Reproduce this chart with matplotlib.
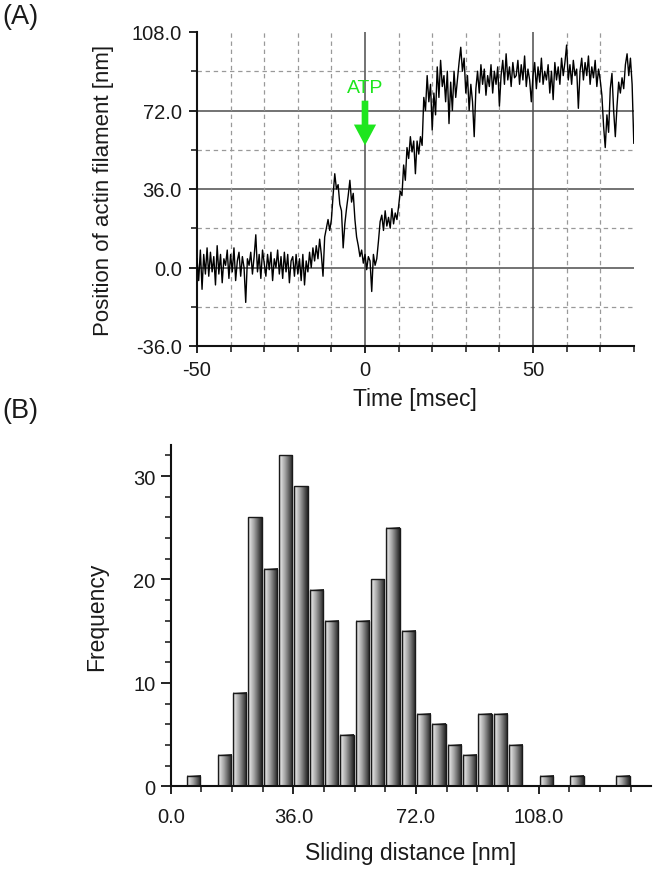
import numpy as np
import matplotlib
matplotlib.use("Agg")
import matplotlib.pyplot as plt
from matplotlib.colors import LinearSegmentedColormap
from matplotlib.ticker import MultipleLocator, FixedLocator

plt.rcParams['font.family'] = ['Liberation Sans', 'DejaVu Sans']
plt.rcParams['axes.unicode_minus'] = False

# ---------------- Panel A data: trace sampled every 0.5 ms from -50 to 80 ms
t_start, t_end = -50.0, 80.0
position_nm = [
    4, -6, 8, -10, 6, -3, 9, -4, 7, -2,          # -50
    5, -8, 10, -3, 6, -7, 4, 1, 8, -5,           # -45
    6, -2, 9, -6, 3, 7, -4, 5, 0, -16,           # -40
    4, 1, 7, -3, 5, 15, -2, 6, -5, 8,            # -35
    2, -4, 6, -1, 7, -6, 4, 0, 8, -3,            # -30
    5, -5, 7, -2, 6, -7, 3, 5, -4, 6,            # -25
    -3, 4, -6, 6, -8, 3, -2, 7, 0, 9,            # -20
    3, 10, 4, 13, 6, -4, 14, 18, 22, 17,         # -15
    22, 33, 43, 36, 38, 29, 26, 9, 20, 27,       # -10
    33, 40, 30, 34, 22, 14, 10, 5, 8, 2,         # -5
    6, -1, 5, 3, -11, 6, 1, 4, 12, 21,           # 0
    24, 17, 26, 19, 23, 18, 27, 20, 25, 22,      # 5
    28, 35, 33, 47, 40, 55, 50, 60, 53, 58,      # 10
    43, 58, 52, 60, 56, 78, 72, 88, 76, 84,      # 15
    63, 80, 70, 92, 78, 95, 83, 88, 76, 90,      # 20
    66, 85, 72, 90, 78, 86, 94, 101, 90, 96,     # 25
    80, 88, 72, 84, 76, 60, 82, 90, 80, 93,      # 30
    84, 91, 79, 88, 83, 93, 80, 90, 84, 92,      # 35
    74, 88, 95, 84, 98, 86, 92, 83, 94, 87,      # 40
    88, 95, 84, 93, 86, 97, 83, 91, 86, 76,      # 45
    88, 94, 82, 92, 85, 96, 84, 90, 86, 93,      # 50
    80, 90, 77, 94, 86, 92, 84, 96, 88, 94,      # 55
    102, 86, 93, 84, 95, 88, 91, 73, 90, 96,     # 60
    86, 94, 88, 97, 84, 92, 87, 95, 83, 91,      # 65
    86, 79, 65, 55, 70, 62, 82, 89, 72, 60,      # 70
    74, 85, 80, 87, 82, 93, 98, 88, 96, 84,      # 75
    57,                                          # 80
]
time_ms = np.linspace(t_start, t_end, len(position_nm))

a_yticks = [-36, 0, 36, 72, 108]
a_yticklabels = ["-36.0", "0.0", "36.0", "72.0", "108.0"]
a_xticks = [-50, 0, 50]
a_xticklabels = ["-50", "0", "50"]
a_solid_h = [0, 36, 72]
a_dashed_h = [-18, 18, 54, 90]
a_solid_v = [0, 50]
a_dashed_v = [-40, -30, -20, -10, 10, 20, 30, 40, 60, 70]
atp_time = 0
atp_arrow_from, atp_arrow_to, atp_text_y = 76.5, 56.0, 78.6

# ---------------- Panel B data: histogram of sliding distance
bin_centers = [2.25, 6.75, 11.25, 15.75, 20.25, 24.75, 29.25, 33.75, 38.25, 42.75,
               47.25, 51.75, 56.25, 60.75, 65.25, 69.75, 74.25, 78.75, 83.25, 87.75,
               92.25, 96.75, 101.25, 105.75, 110.25, 114.75, 119.25, 123.75, 128.25, 132.75]
counts = [0, 1, 0, 3, 9, 26, 21, 32, 29, 19,
          16, 5, 16, 20, 25, 15, 7, 6, 4, 3,
          7, 7, 4, 0, 1, 0, 1, 0, 0, 1]
b_xticks = [0, 36, 72, 108]
b_xticklabels = ["0.0", "36.0", "72.0", "108.0"]
b_yticks = [0, 10, 20, 30]

TXT = '#1a1a1a'
GREEN = '#1ee61e'

fig = plt.figure(figsize=(6.53, 8.70), dpi=100)

# ================= Panel A
axA = fig.add_axes([197/653, 1-347/870, (633.8-197)/653, (347-33)/870])
axA.set_xlim(-50, 80)
axA.set_ylim(-36, 108)
for y in a_solid_h:
    axA.axhline(y, color='#4d4d4d', lw=1.1, zorder=1)
for y in a_dashed_h:
    axA.axhline(y, color='#999999', lw=0.9, ls=(0, (3.5, 3)), zorder=1)
for x in a_solid_v:
    axA.axvline(x, color='#4d4d4d', lw=1.1, zorder=1)
for x in a_dashed_v:
    axA.axvline(x, color='#999999', lw=0.9, ls=(0, (3.5, 3)), zorder=1)
axA.plot(time_ms, position_nm, color='black', lw=1.0, zorder=3)

axA.annotate('', xy=(atp_time, atp_arrow_to), xytext=(atp_time, atp_arrow_from),
             arrowprops=dict(arrowstyle='simple,head_width=0.8,head_length=0.75,tail_width=0.24',
                             color=GREEN, lw=0, shrinkA=0, shrinkB=0, mutation_scale=20), zorder=4)
axA.text(atp_time, atp_text_y, 'ATP', color=GREEN, fontsize=14, ha='center', va='bottom', zorder=4)

for s in ['top', 'right']:
    axA.spines[s].set_visible(False)
for s in ['left', 'bottom']:
    axA.spines[s].set_linewidth(1.5)
    axA.spines[s].set_color('#111111')
axA.set_yticks(a_yticks)
axA.set_yticklabels(a_yticklabels)
axA.yaxis.set_minor_locator(FixedLocator(a_dashed_h))
axA.set_xticks(a_xticks)
axA.set_xticklabels(a_xticklabels)
axA.xaxis.set_minor_locator(MultipleLocator(10))
axA.tick_params(axis='both', which='major', direction='out', length=5, width=1.3,
                color='#111111', labelsize=14.5, labelcolor=TXT)
axA.tick_params(axis='x', which='major', pad=5)
axA.tick_params(axis='y', which='major', pad=5, length=6)
axA.tick_params(axis='both', which='minor', direction='out', length=4, width=1.1, color='#111111')
axA.set_xlabel('Time [msec]', fontsize=16.5, color=TXT, labelpad=6)
axA.set_ylabel('Position of actin filament [nm]', fontsize=16, color=TXT)
axA.yaxis.set_label_coords(-0.19, 0.5)
axA.set_facecolor('white')

# ================= Panel B
axB = fig.add_axes([170.7/653, 1-787.3/870, (651-170.7)/653, (787.3-446)/870])
axB.set_xlim(0, 141)
axB.set_ylim(0, 33)
cmap = LinearSegmentedColormap.from_list(
    'bar', [(0.0, '#9a9a9a'), (0.12, '#dedede'), (0.45, '#a0a0a0'), (0.85, '#444444'), (1.0, '#222222')])
grad = np.linspace(0, 1, 64).reshape(1, -1)
bars = axB.bar(bin_centers, counts, width=3.9, facecolor='none', edgecolor='#1a1a1a', lw=1.0, zorder=3)
for b in bars:
    h = b.get_height()
    if h <= 0:
        continue
    x0 = b.get_x()
    axB.imshow(grad, extent=[x0, x0 + b.get_width(), 0, h], aspect='auto', cmap=cmap,
               interpolation='bilinear', zorder=2)
axB.set_xlim(0, 141)
axB.set_ylim(0, 33)
axB.set_aspect('auto')
for s in ['top', 'right']:
    axB.spines[s].set_visible(False)
for s in ['left', 'bottom']:
    axB.spines[s].set_linewidth(1.5)
    axB.spines[s].set_color('#111111')
    axB.spines[s].set_zorder(5)
axB.set_xticks(b_xticks)
axB.set_xticklabels(b_xticklabels)
axB.xaxis.set_minor_locator(MultipleLocator(9))
axB.set_yticks(b_yticks)
axB.yaxis.set_minor_locator(MultipleLocator(2))
axB.tick_params(axis='both', which='major', direction='out', length=6, width=1.3,
                color='#111111', labelsize=14.5, labelcolor=TXT)
axB.tick_params(axis='x', which='major', pad=9)
axB.tick_params(axis='y', which='major', pad=4, length=7)
axB.tick_params(axis='both', which='minor', direction='out', length=4, width=1.1, color='#111111')
axB.set_xlabel('Sliding distance [nm]', fontsize=16.5, color=TXT, labelpad=11)
axB.set_ylabel('Frequency', fontsize=16.5, color=TXT)
axB.yaxis.set_label_coords(-0.13, 0.5)

fig.text(2/653, 1-17/870, '(A)', fontsize=19.5, color=TXT, ha='left', va='center')
fig.text(2/653, 1-411/870, '(B)', fontsize=19.5, color=TXT, ha='left', va='center')

fig.savefig('out.png', dpi=100, facecolor='white')
